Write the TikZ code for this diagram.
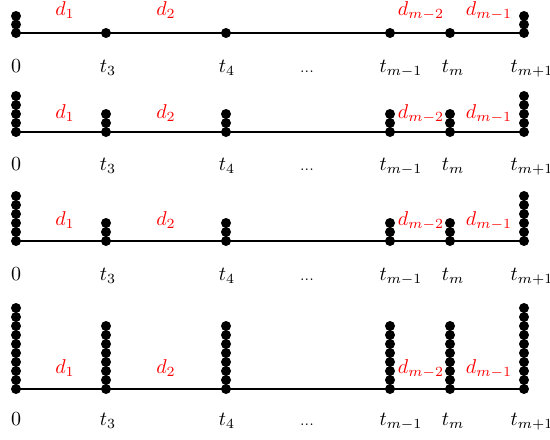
\documentclass[tikz,border=0pt]{standalone}
\begin{document}
\begin{tikzpicture}[x=0.5pt,y=-0.5pt,
  pt/.style={circle,fill=black,draw=none,inner sep=0pt,minimum size=5pt},
  axisline/.style={line width=1pt},
  tlab/.style={anchor=base,inner sep=0pt},
  dlab/.style={anchor=base,inner sep=0pt,text=red}]
\useasboundingbox (0,0) rectangle (550,439);
% row / axis y / end dots / inner dots / spacing / tick-label baseline / d-label baseline
\foreach \r/\y/\ea/\eb/\sp/\ly/\dy in {1/33/3/1/8.5/72/16, 2/132/5/3/9/170/118, 3/241/6/3/9/280/225, 4/389/10/8/9/425/373} {
  \foreach \x [count=\c] in {16,106,226,390,450,524} {
    \pgfmathtruncatemacro\n{(\c==1 || \c==6) ? \ea : \eb}
    \foreach \k in {1,...,\n} {
      \node[pt] (r\r c\c k\k) at (\x,{\y-(\k-1)*\sp}) {};
    }
  }
  \draw[axisline] (r\r c1k1.center) -- (r\r c6k1.center);
  \node[tlab] (r\r l0) at (16,\ly) {$0$};
  \node[tlab] (r\r l3) at (108,\ly) {$t_3$};
  \node[tlab] (r\r l4) at (227,\ly) {$t_4$};
  \node[tlab] (r\r ld) at (307,\ly) {\scriptsize ...};
  \node[tlab] (r\r lm1) at (401,\ly) {$t_{m-1}$};
  \node[tlab] (r\r lm) at (453,\ly) {$t_m$};
  \node[tlab] (r\r lm2) at (532,\ly) {$t_{m+1}$};
  \node[dlab] (r\r d1) at (65,\dy) {$d_1$};
  \node[dlab] (r\r d2) at (166,\dy) {$d_2$};
  \node[dlab] (r\r dm2) at (421,\dy) {$d_{m-2}$};
  \node[dlab] (r\r dm1) at (489,\dy) {$d_{m-1}$};
}
\end{tikzpicture}
\end{document}
